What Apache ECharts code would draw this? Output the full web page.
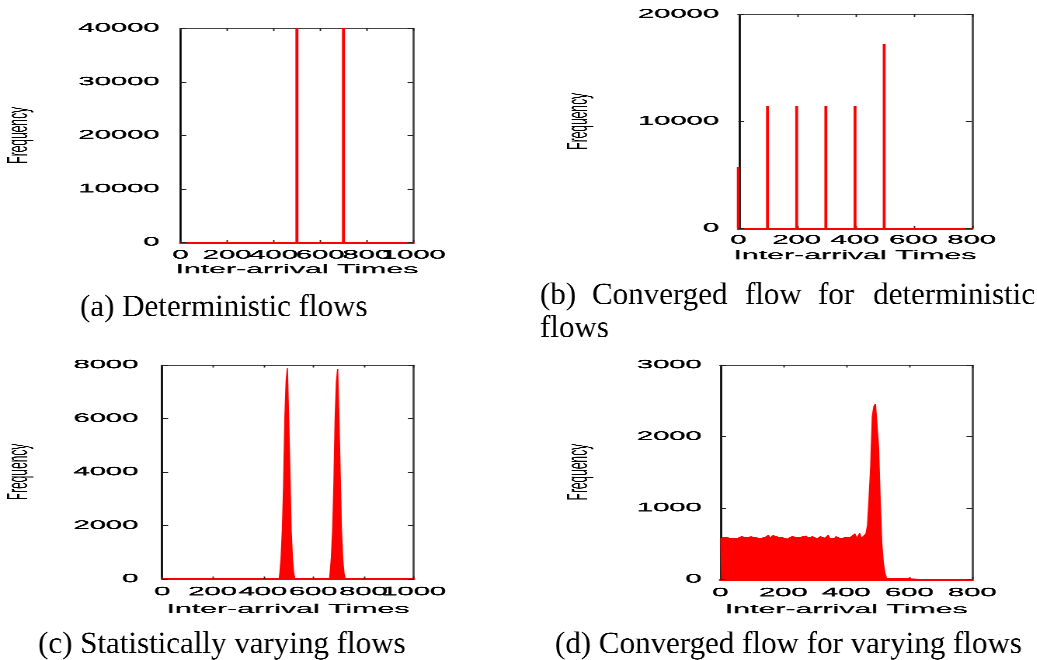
<!DOCTYPE html>
<html><head><meta charset="utf-8">
<script src="https://cdn.jsdelivr.net/npm/echarts@6/dist/echarts.min.js"></script>
<style>
html,body{margin:0;padding:0;background:#fff;overflow:hidden;}
#wrap{width:1037px;height:660px;position:relative;overflow:hidden;background:#fff;}
#chart{position:absolute;left:0;top:0;height:660px;transform-origin:0 0;}
</style></head><body>
<div id="wrap"><div id="chart"></div></div>
<script>
// ---------------- data ----------------
// (a) Deterministic flows (impulses clipped at the top of the plot)
const aBins = [500, 700];
const aFreq = [50000, 50000];
// (b) Converged flow for deterministic flows
const bBins = [0, 100, 200, 300, 400, 500];
const bFreq = [5750, 11430, 11430, 11430, 11430, 17200];
// (c) Statistically varying flows (histogram, 5-unit bins)
const cBins = [0, 465, 470, 475, 480, 485, 490, 495, 500, 505, 510, 515, 520, 525, 530,
               665, 670, 675, 680, 685, 690, 695, 700, 705, 710, 715, 720, 725, 730, 1000];
const cFreq = [0, 0, 213, 774, 1806, 3477, 6007, 7377, 7877, 6007, 3951, 1806, 774, 213, 0,
               0, 230, 790, 1790, 3500, 5990, 7350, 7860, 6020, 3930, 1820, 760, 220, 0, 0];
// (d) Converged flow for varying flows (histogram, bins of 5 starting at 0)
const dBinWidth = 5;
const dFreq = [
  560,575,590,595,600,585,605,590,570,575,
  580,572,590,585,600,578,595,588,570,585,
  598,602,590,585,572,560,575,580,560,590,
  585,620,580,600,615,590,605,595,610,590,
  585,600,578,565,590,585,600,612,580,590,
  615,585,595,570,600,610,580,590,575,600,
  612,588,570,595,600,585,590,578,602,620,
  575,590,582,570,600,585,610,570,595,585,
  590,572,600,588,578,590,640,575,560,645,
  575,570,600,640,761,1158,1578,2280,2420,2457,
  2450,1840,1112,509,228,88,20,0
];
const dEnd = [800, 0];

// axis ranges [min, max, interval]
const aX = [0, 1000, 200], aY = [0, 40000, 10000];
const bX = [0, 800, 200],  bY = [0, 20000, 10000];
const cX = [0, 1000, 200], cY = [0, 8000, 2000];
const dX = [0, 800, 200],  dY = [0, 3000, 1000];

const xName = 'Inter-arrival Times';
const yName = 'Frequency';
const captions = [
  {t:'(a) Deterministic flows', x:80, y:308},
  {t:'(b)', x:540, y:296}, {t:'Converged', x:592, y:296}, {t:'flow', x:745, y:296},
  {t:'for', x:818, y:296}, {t:'deterministic', x:1035, y:296, align:'right'},
  {t:'flows', x:540, y:329},
  {t:'(c) Statistically varying flows', x:38, y:645},
  {t:'(d) Converged flow for varying flows', x:555, y:645}
];

// ---------------- layout ----------------
const S = 2.33;            // horizontal stretch of the original figure
const W = 1037 / S;
const chartDiv = document.getElementById('chart');
chartDiv.style.width = W + 'px';
chartDiv.style.transform = 'scaleX(' + S + ')';

const RED = '#ff0000';
const panels = [
  {g:{l:180.5,r:413.3,t:28.3,b:242.3}, x:aX, y:aY, yLab:21, yGap:147, xLab:6.5, xGap:21},
  {g:{l:738.3,r:971.7,t:14.3,b:228.3}, x:bX, y:bY, yLab:19.3, yGap:145, xLab:5.5, xGap:21},
  {g:{l:162.3,r:413.7,t:365,b:579},    x:cX, y:cY, yLab:24, yGap:129, xLab:6.5, xGap:24},
  {g:{l:720.3,r:972.3,t:365,b:579.3},  x:dX, y:dY, yLab:18.6, yGap:127, xLab:7, xGap:24}
];
const labelFont = {fontFamily:'Liberation Sans', fontSize:12.5, color:'#000',
                   textBorderColor:'#000', textBorderWidth:0.25};
const fmt = v => String(v);

const grid = [], xAxis = [], yAxis = [];
const xIdx = [];   // index of main bottom x axis per panel
panels.forEach((p, i) => {
  grid.push({left:p.g.l / S, top:p.g.t, width:(p.g.r - p.g.l) / S, height:p.g.b - p.g.t,
             containLabel:false, outerBoundsMode:'none'});
  const xr = {min:p.x[0], max:p.x[1], interval:p.x[2]};
  const yr = {min:p.y[0], max:p.y[1], interval:p.y[2]};
  xIdx.push(xAxis.length);
  // bottom axis: all labels except the last one
  xAxis.push(Object.assign({gridIndex:i, type:'value', position:'bottom',
    axisLine:{show:true, onZero:false, lineStyle:{color:RED, width:1.5}},
    axisTick:{show:true, inside:true, length:2.5, lineStyle:{color:'#222', width:0.6}},
    axisLabel:Object.assign({show:true, margin:p.xLab, hideOverlap:false,
                             formatter:v => (v === p.x[1] ? '' : String(v))}, labelFont),
    splitLine:{show:false},
    name:xName, nameLocation:'middle', nameGap:p.xGap,
    nameTextStyle:{fontFamily:'Liberation Sans', fontSize:13, color:'#000',
                   textBorderColor:'#000', textBorderWidth:0.2}}, xr));
  // companion bottom axis carrying only the last label (kept even when it overlaps)
  xAxis.push(Object.assign({gridIndex:i, type:'value', position:'bottom',
    axisLine:{show:false, onZero:false}, axisTick:{show:false},
    axisLabel:Object.assign({show:true, margin:p.xLab, hideOverlap:false,
                             formatter:v => (v === p.x[1] ? String(v) : '')}, labelFont),
    splitLine:{show:false}}, xr));
  // top mirror axis
  xAxis.push(Object.assign({gridIndex:i, type:'value', position:'top',
    axisLine:{show:true, onZero:false, lineStyle:{color:'#444', width:1}},
    axisTick:{show:true, inside:true, length:2.5, lineStyle:{color:'#222', width:0.6}},
    axisLabel:{show:false}, splitLine:{show:false}}, xr));
  yAxis.push(Object.assign({gridIndex:i, type:'value', position:'left',
    axisLine:{show:true, onZero:false, lineStyle:{color:'#000', width:0.9}},
    axisTick:{show:true, inside:true, length:2.5, lineStyle:{color:'#222', width:1}},
    axisLabel:Object.assign({show:true, margin:p.yLab / S, formatter:fmt,
                             showMinLabel:true, showMaxLabel:true, hideOverlap:false}, labelFont),
    splitLine:{show:false},
    name:yName, nameLocation:'middle', nameGap:p.yGap / S,
    nameTextStyle:{fontFamily:'Liberation Sans', fontSize:12, color:'#000'}}, yr));
  yAxis.push(Object.assign({gridIndex:i, type:'value', position:'right',
    axisLine:{show:true, onZero:false, lineStyle:{color:'#444', width:0.9}},
    axisTick:{show:true, inside:true, length:2.5, lineStyle:{color:'#222', width:1}},
    axisLabel:{show:false}, splitLine:{show:false}}, yr));
});

const pairs = (xs, ys) => xs.map((x, i) => [x, ys[i]]);
const dData = dFreq.map((v, i) => [i * dBinWidth, v]).concat([dEnd]);

const histLine = (panel, data) => ({
  type:'line', xAxisIndex:xIdx[panel], yAxisIndex:panel * 2, data:data, step:'middle',
  showSymbol:false, symbol:'none', clip:true,
  lineStyle:{color:RED, width:0.5}, areaStyle:{color:RED, opacity:1}, itemStyle:{color:RED}
});

const series = [
  {type:'bar', xAxisIndex:xIdx[0], yAxisIndex:0, data:pairs(aBins, aFreq), barWidth:1.3, clip:true,
   itemStyle:{color:RED}},
  {type:'bar', xAxisIndex:xIdx[1], yAxisIndex:2, data:pairs(bBins, bFreq), barWidth:1.25, clip:true,
   itemStyle:{color:RED}},
  histLine(2, pairs(cBins, cFreq)),
  histLine(3, dData)
];

const graphic = captions.map(c => ({
  type:'text', x:c.x / S, y:c.y, scaleX:1 / S, silent:true,
  style:{text:c.t, fontFamily:'Liberation Serif', fontSize:31, fill:'#000',
         textAlign:c.align || 'left', textVerticalAlign:'middle'}
}));

const chart = echarts.init(chartDiv, null, {renderer:'canvas', devicePixelRatio:3});
chart.setOption({
  animation:false, backgroundColor:'#fff',
  grid, xAxis, yAxis, series, graphic
});
</script>
</body></html>
